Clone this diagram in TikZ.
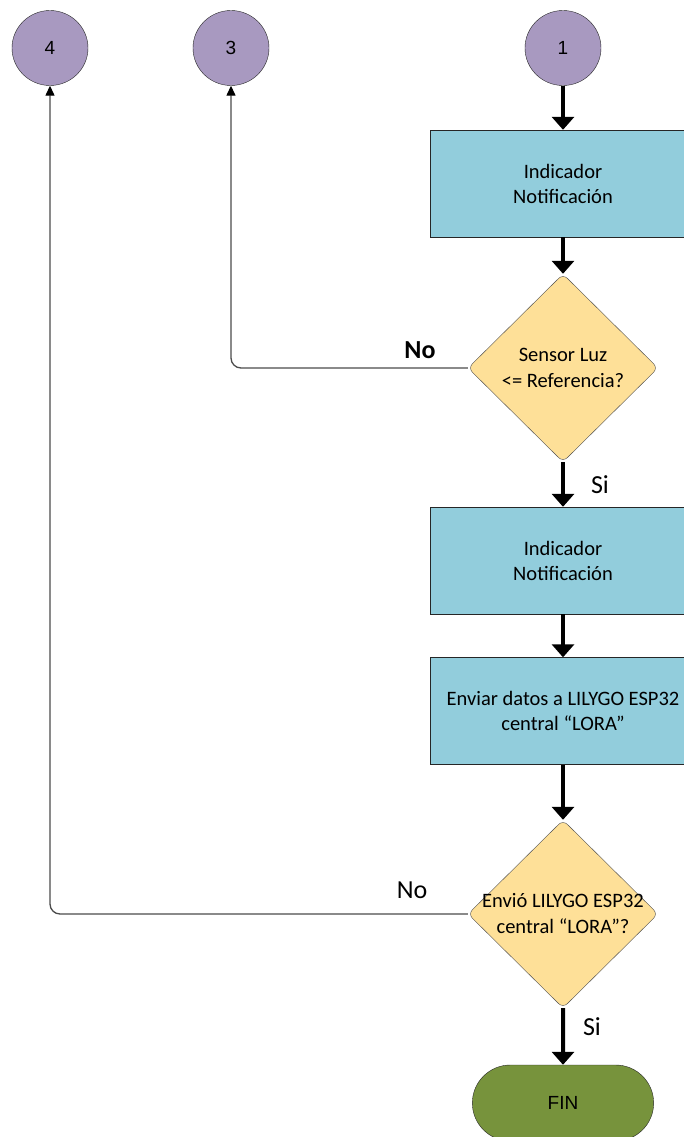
\documentclass[tikz,border=0pt]{standalone}
\usepackage{fontspec}
\setmainfont{Carlito}
\newfontfamily\arialf{Liberation Sans}
\usetikzlibrary{shapes.geometric,shapes.misc,arrows.meta}
\definecolor{lila}{RGB}{168,153,192}
\definecolor{celeste}{RGB}{146,205,220}
\definecolor{amarillo}{RGB}{254,224,152}
\definecolor{verde}{RGB}{119,147,60}
\begin{document}
\begin{tikzpicture}[x=1pt,y=-1pt]
    \tikzstyle{conector} = [ellipse, draw=black!85, fill=lila, minimum width=76pt, minimum height=75pt, inner sep=0pt, font=\arialf\fontsize{19}{21}\selectfont]
    \tikzstyle{proceso} = [rectangle, draw=black!85, fill=celeste, minimum width=266pt, minimum height=107pt, inner sep=0pt, align=center, font=\fontsize{20.5}{25}\selectfont]
    \tikzstyle{decision} = [diamond, draw=black!70, fill=amarillo, minimum width=190pt, minimum height=188pt, inner sep=0pt, aspect=1, rounded corners=6pt]
    \tikzstyle{pregunta} = [align=center, inner sep=0pt, font=\fontsize{20.5}{26}\selectfont]
    \tikzstyle{terminal} = [rounded rectangle, draw=black!85, fill=verde, minimum width=188pt, minimum height=76pt, font=\arialf\fontsize{19}{21}\selectfont]
    \tikzstyle{flecha} = [line width=4pt, -{Triangle[width=22pt,length=13pt]}]
    \tikzstyle{regreso} = [line width=1.3pt, draw=black!70, rounded corners=10pt, -{Triangle[width=9pt,length=10pt,black]}]
    \tikzstyle{etiqueta} = [inner sep=0pt, font=\fontsize{26}{28}\selectfont]
    \clip (0,0) rectangle (684,1137);
    \fill[white] (0,0) rectangle (684,1137);
    \node[conector] (cuatro) at (50,48) {4};
    \node[conector] (tres) at (231,48) {3};
    \node[conector] (uno) at (563,48) {1};
    \node[proceso] (ind1) at (563,183.5) {Indicador\\Notificación};
    \node[decision] (sensor) at (563,368) {};
    \node[pregunta] (sensortxt) at (sensor.center) {Sensor Luz\\<= Referencia?};
    \node[proceso] (ind2) at (563,560.5) {Indicador\\Notificación};
    \node[proceso] (enviar) at (563,711) {Enviar datos a LILYGO ESP32\\central “LORA”};
    \node[decision] (envio) at (563,914) {};
    \node[pregunta] (enviotxt) at (envio.center) {Envió LILYGO ESP32\\central “LORA”?};
    \node[terminal] (fin) at (563,1103) {FIN};
    \draw[flecha] (uno) -- (ind1);
    \draw[flecha] (ind1) -- (sensor);
    \draw[flecha] (sensor) -- (ind2);
    \draw[flecha] (ind2) -- (enviar);
    \draw[flecha] (enviar) -- (envio);
    \draw[flecha] (envio) -- (fin);
    \draw[regreso] (sensor.west) -| (tres);
    \draw[regreso] (envio.west) -| (cuatro);
    \node[etiqueta, font=\bfseries\fontsize{26}{28}\selectfont] (no1) at (420,350) {No};
    \node[etiqueta] (si1) at (600,485) {Si};
    \node[etiqueta] (no2) at (412,890) {No};
    \node[etiqueta] (si2) at (592,1027) {Si};
\end{tikzpicture}
\end{document}
